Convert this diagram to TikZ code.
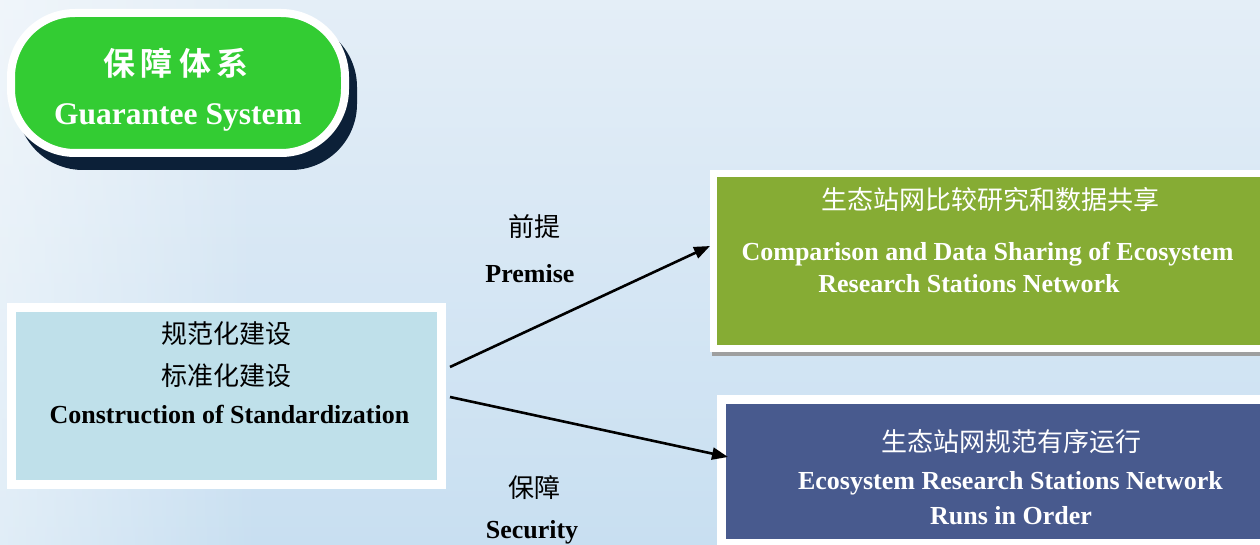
\documentclass[tikz,border=0pt]{standalone}
\usepackage{fontspec}
\setmainfont{Liberation Serif}
\newfontfamily\cjk{Noto Sans CJK SC}
\newfontfamily\cjkb{Noto Sans CJK SC Bold}
\usetikzlibrary{arrows.meta,fadings}
\definecolor{bgtop}{RGB}{228,238,247}
\definecolor{bgbot}{RGB}{200,223,241}
\definecolor{pillgreen}{RGB}{51,204,51}
\definecolor{pillshadow}{RGB}{12,32,56}
\definecolor{srcfill}{RGB}{191,224,234}
\definecolor{olive}{RGB}{134,172,52}
\definecolor{navyblue}{RGB}{72,90,142}
\tikzset{
  frame/.style={rectangle, draw=white, inner sep=0pt},
  txt/.style={inner sep=0pt, anchor=base},
  en/.style={txt, font=\fontsize{26}{30}\selectfont\bfseries},
  cn/.style={txt, font=\fontsize{26}{30}\selectfont\cjk},
  arr/.style={line width=2.6pt, -{Triangle[length=16pt,width=12pt]}}
}
\begin{document}
\begin{tikzpicture}[x=1pt,y=-1pt]
\useasboundingbox (0,0) rectangle (1260,545);
\clip (0,0) rectangle (1260,545);
\shade[top color=bgtop, bottom color=bgbot] (0,0) rectangle (1260,545);
\fill[white, opacity=0.45, path fading=east] (0,0) rectangle (260,545);

% title pill
\fill[pillshadow, rounded corners=66pt] (17,21) rectangle (357,170);
\node[frame, fill=pillgreen, line width=8pt, rounded corners=64pt,
      minimum width=334, minimum height=140] (title) at (178,83) {};
\node[txt, text=white, font=\fontsize{32}{36}\selectfont\cjkb] (titlecn) at (176,76) {保\hspace{6pt}障\hspace{6pt}体\hspace{6pt}系};
\node[txt, text=white, font=\fontsize{31.5}{35}\selectfont\bfseries] (titleen) at (178,125) {Guarantee System};

% source box
\node[frame, fill=srcfill, line width=9pt, minimum width=430, minimum height=177] (src) at (226.5,395.5) {};
\node[cn] (s1) at (226,343) {规范化建设};
\node[cn] (s2) at (226,385) {标准化建设};
\node[en] (s3) at (229.5,423) {Construction of Standardization};

% comparison box
\fill[gray!75] (712,175) rectangle (1280,356);
\node[frame, fill=olive, line width=7pt, minimum width=561.5, minimum height=175] (cmp) at (994.25,261) {};
\node[cn, text=white] (c1) at (990,210) {生态站网比较研究和数据共享};
\node[en, text=white] (c2) at (987.5,261) {Comparison and Data Sharing of Ecosystem};
\node[en, text=white] (c3) at (969,292) {Research Stations Network};

% run box
\node[frame, fill=navyblue, line width=9pt, minimum width=553.5, minimum height=144] (run) at (998.25,471.5) {};
\node[cn, text=white] (r1) at (1011,451) {生态站网规范有序运行};
\node[en, text=white] (r2) at (1010.5,489) {Ecosystem Research Stations Network};
\node[en, text=white] (r3) at (1011,524) {Runs in Order};

% arrow labels
\node[cn] (l1) at (534,237) {前提};
\node[en] (l1e) at (530,282) {Premise};
\node[cn] (l2) at (534,497) {保障};
\node[en] (l2e) at (532,538) {Security};

% arrows
\draw[arr] ([xshift=4pt,yshift=28.5pt]src.east) -- ([yshift=15pt]cmp.west);
\draw[arr] ([xshift=4pt,yshift=-1.5pt]src.east) -- ([xshift=11pt,yshift=14.5pt]run.west);
\end{tikzpicture}
\end{document}
